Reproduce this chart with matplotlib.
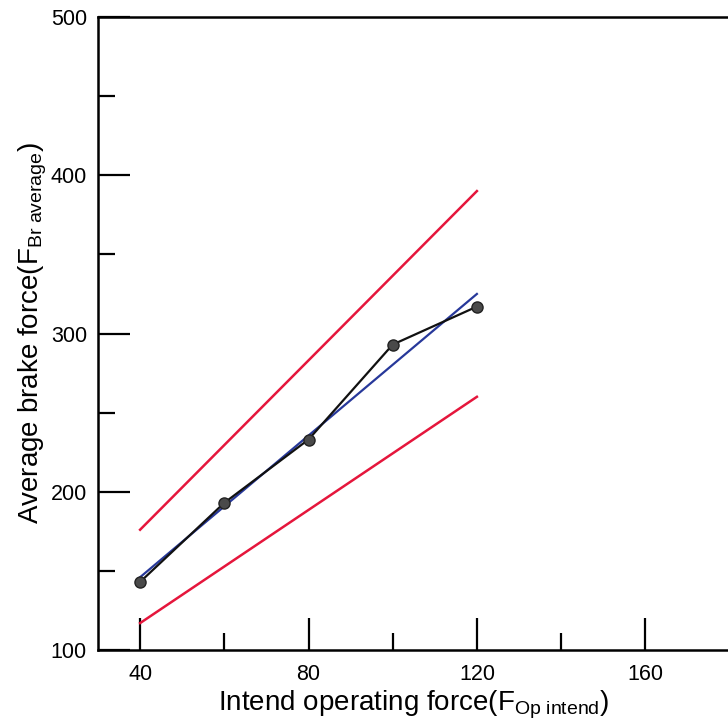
import matplotlib
matplotlib.use("Agg")
import matplotlib.pyplot as plt
from matplotlib.ticker import MultipleLocator

# Data
x_meas = [40, 60, 80, 100, 120]
y_meas = [143, 193, 233, 293, 317]
x_line = [40, 120]
y_fit = [146, 325]
y_upper = [176, 390]
y_lower = [117, 260]
x_major = [40, 80, 120, 160]
y_major = [100, 200, 300, 400, 500]

plt.rcParams['font.family'] = ['Liberation Sans', 'DejaVu Sans']
plt.rcParams['mathtext.fontset'] = 'custom'
plt.rcParams['mathtext.rm'] = 'Liberation Sans'
plt.rcParams['mathtext.it'] = 'Liberation Sans:italic'

W, H = 728, 721
fig = plt.figure(figsize=(W / 100, H / 100), dpi=100)
px_per_x = 4.21
x0, x1 = 30, 180
left, bottom, top = 98, 650, 17
ax = fig.add_axes([left / W, 1 - bottom / H, (x1 - x0) * px_per_x / W, (bottom - top) / H])

ax.plot(x_line, y_upper, color='#e5163c', lw=1.8, zorder=2)
ax.plot(x_line, y_lower, color='#e5163c', lw=1.8, zorder=2)
ax.plot(x_line, y_fit, color='#27389a', lw=1.6, zorder=3)
ax.plot(x_meas, y_meas, color='#111111', lw=1.6, marker='o', ms=8,
        markerfacecolor='#4a4a4a', markeredgecolor='#222222', zorder=4)

ax.set_xlim(x0, x1)
ax.set_ylim(100, 500)
ax.set_xticks(x_major)
ax.set_yticks(y_major)
ax.xaxis.set_minor_locator(MultipleLocator(20))
ax.yaxis.set_minor_locator(MultipleLocator(50))
ax.tick_params(which='major', direction='in', length=23, width=1.6, labelsize=15.5)
ax.tick_params(which='minor', direction='in', length=12, width=1.6)
ax.tick_params(axis='x', which='major', pad=10)
ax.tick_params(axis='y', which='major', pad=8)
ax.tick_params(top=False, right=False, which='both')
for s in ax.spines.values():
    s.set_linewidth(1.8)

ax.set_xlabel('Intend operating force(F$_{\\mathrm{Op\\ intend}}$)', fontsize=20, labelpad=3)
ax.set_ylabel('Average brake force(F$_{\\mathrm{Br\\ average}}$)', fontsize=20, labelpad=1)

fig.savefig('out.png', dpi=100)
